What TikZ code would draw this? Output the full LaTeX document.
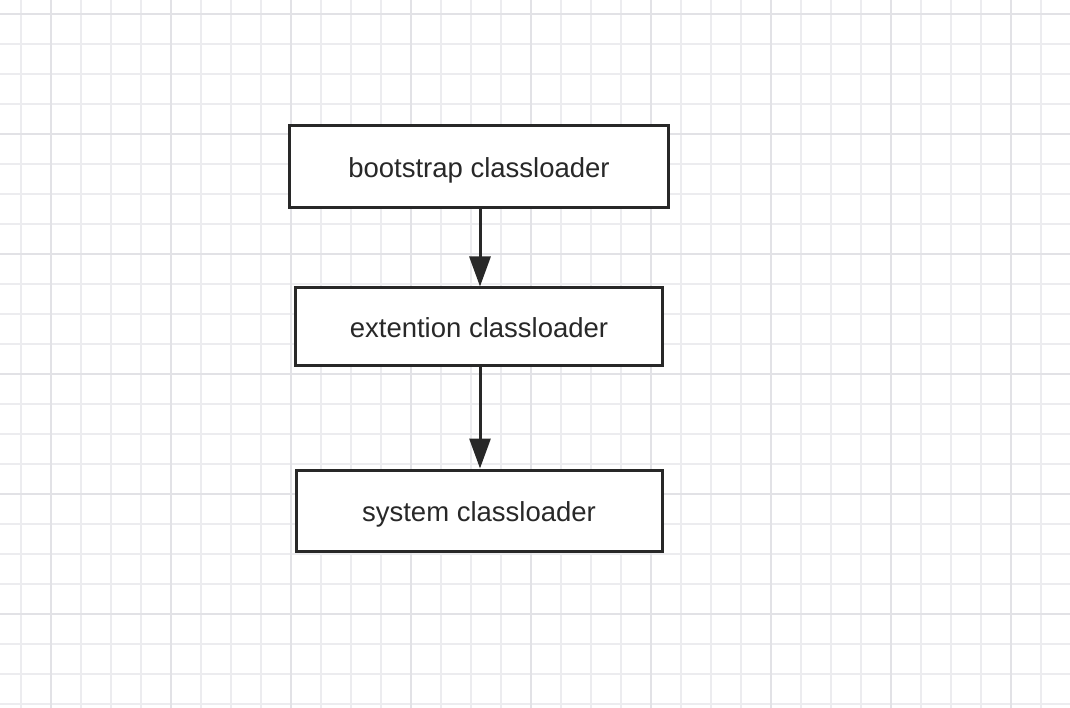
\documentclass[tikz,border=0pt]{standalone}
\usepackage{fontspec}
\setmainfont{Liberation Sans}
\usetikzlibrary{arrows.meta}
\definecolor{gridminor}{RGB}{236,236,239}
\definecolor{gridmajor}{RGB}{226,226,230}
\definecolor{ink}{RGB}{40,40,40}
\tikzset{
  box/.style={draw=ink, line width=3pt, fill=white, inner sep=0pt, text height=22pt, text depth=0pt, font=\fontsize{27.5}{32}\selectfont, text=ink},
  conn/.style={draw=ink, line width=3pt, -{Triangle[length=30pt,width=21pt]}},
}
\begin{document}
\begin{tikzpicture}[x=1pt,y=-1pt]
\useasboundingbox (0,0) rectangle (1070,708);
\fill[white] (0,0) rectangle (1070,708);
\foreach \i in {0,...,35} {\draw[gridminor, line width=1.8pt] (21+30*\i,0) -- (21+30*\i,708);}
\foreach \i in {0,...,23} {\draw[gridminor, line width=1.8pt] (0,14+30*\i) -- (1070,14+30*\i);}
\foreach \i in {0,...,8} {\draw[gridmajor, line width=2.2pt] (51+120*\i,0) -- (51+120*\i,708);}
\foreach \i in {0,...,5} {\draw[gridmajor, line width=2.2pt] (0,14+120*\i) -- (1070,14+120*\i);}
\node[box, minimum width=379pt, minimum height=82pt] (b) at (479,167) {bootstrap classloader};
\node[box, minimum width=367pt, minimum height=77pt] (e) at (479,326.5) {extention classloader};
\node[box, minimum width=366pt, minimum height=81pt] (s) at (479,510.5) {system classloader};
\draw[conn] (b.south -| 480,0) -- (e.north -| 480,0);
\draw[conn] (e.south -| 480,0) -- (s.north -| 480,0);
\end{tikzpicture}
\end{document}
